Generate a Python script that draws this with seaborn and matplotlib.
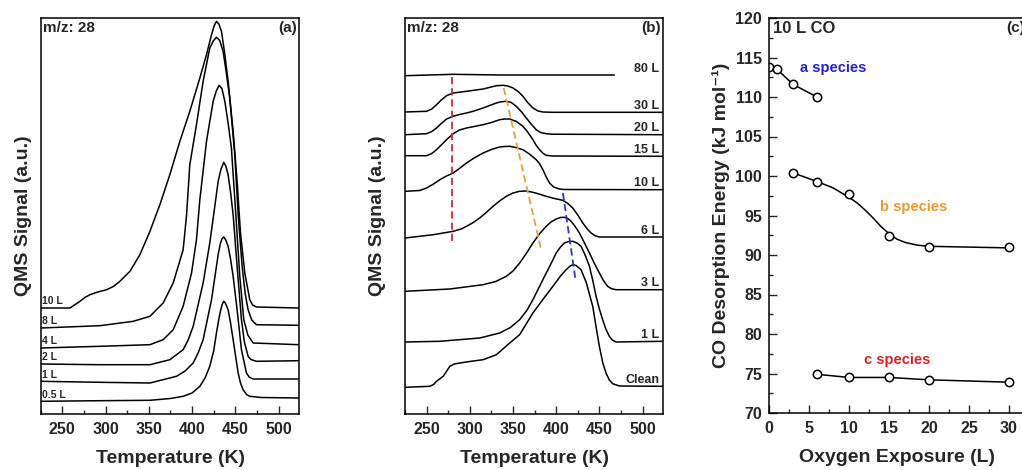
import matplotlib
matplotlib.use("Agg")
import matplotlib.pyplot as plt
import seaborn as sns
from matplotlib.ticker import MultipleLocator, NullLocator

# ---------------- Panel (a): TPD m/z 28 vs CO exposure ----------------
a_labels = ["10 L", "8 L", "4 L", "2 L", "1 L", "0.5 L"]

a_T_10 = [225, 258.9, 264, 270.4, 276, 282, 291, 301.2, 309, 316.6, 328.2, 339.7, 351.3, 362.8, 374.3,
          385.9, 397.4, 409, 416.7, 422.5, 425.5, 428.2, 431, 434, 437.5, 441.7, 447.5, 452.1, 456,
          461, 466.7, 470, 474.4, 523.7]
a_S_10 = [106, 106, 109, 112.7, 116.5, 119.3, 122, 124.3, 127.5, 132.7, 142.7, 159.3, 182.7, 209.3, 239.3,
          272.7, 302.7, 336, 359.3, 379.3, 388, 392.7, 390, 382.7, 362, 332.7, 282.7, 232.7, 181,
          141, 114.3, 109, 107, 106]

a_T_8 = [225, 293.5, 332, 351.3, 366.6, 378.2, 389.7, 393.6, 397.4, 405.1, 412.8, 420.5, 424.5, 428.2,
         432, 435.9, 439.5, 443.6, 449.4, 453.3, 457.9, 461.5, 464.8, 469, 474.4, 523.7]
a_S_8 = [86, 88.3, 92.7, 97.7, 111, 131, 164.3, 198.3, 249.3, 289.3, 332.7, 366, 373, 376.7,
         373.5, 362.7, 342, 316, 259.3, 199.3, 147.7, 120, 104.3, 94, 89.3, 88.7]

a_T_4 = [225, 293.5, 351.3, 366.6, 378.2, 389.7, 399.4, 405.1, 409, 416.7, 424.4, 428, 431.3, 434.5,
         437.9, 441.5, 445.5, 450.6, 455.2, 459.8, 464.5, 470.6, 523.7]
a_S_4 = [66, 67.7, 69.3, 74.3, 84.3, 107.7, 141, 174.3, 214.3, 272.7, 312.7, 323, 328.7, 325.5,
         312.7, 292, 266, 199.3, 137.7, 94.3, 79, 71, 69.3]

a_T_2 = [225, 293.5, 351.3, 374.3, 389.7, 395.5, 401.3, 412.8, 420.5, 426.3, 430.2, 433.5, 436.7,
         439, 441.7, 444.5, 447.5, 452.1, 457.1, 460.5, 464.8, 468, 474.4, 523.7]
a_S_2 = [50, 49.3, 49.3, 54.3, 64.3, 74, 87.7, 131, 171, 207.7, 232.7, 245, 251.7,
         248, 239.3, 222, 199.3, 147.7, 94.3, 72, 57.7, 54.5, 52.7, 53.3]

a_T_1 = [225, 293.5, 351.3, 382, 392, 401.3, 407, 412.8, 422.5, 428.2, 430.5, 432.9, 434.8, 436.7,
         439, 441.7, 444.5, 447.5, 452.1, 457.1, 462.9, 466, 470.6, 523.7]
a_S_1 = [32.7, 31.7, 31, 37.7, 43, 51, 61, 74.3, 114.3, 147.7, 161, 171, 175.5, 177,
         174, 167.7, 155, 137.7, 104.3, 64.3, 41, 37, 35, 35]

a_T_05 = [225, 293.5, 351.3, 375, 389.7, 400, 409, 415, 420.5, 425, 428.2, 431, 433.2, 435, 436.7,
          438.5, 441.7, 444.5, 447.5, 450.5, 453.3, 456, 459, 463, 466.7, 480, 523.7]
a_S_05 = [12.7, 13.3, 13.7, 15.5, 17.7, 21, 27.7, 36, 47.7, 63, 81, 95, 104.3, 110, 112.7,
          111, 104.3, 91, 74.3, 57, 41, 31, 24.3, 19.5, 17.7, 16.5, 16]

# ---------------- Panel (b): TPD after O2 pre-exposure ----------------
b_labels = ["80 L", "30 L", "20 L", "15 L", "10 L", "6 L", "3 L", "1 L", "Clean"]

b_T_80 = [225, 280.8, 334.6, 467.3]
b_S_80 = [338.3, 339.7, 339, 339]

b_T_30 = [225, 250, 256, 261.5, 267, 273.1, 280.8, 296.2, 315.4, 330.8, 338.5, 344, 350, 356,
          361.5, 367, 373.1, 379, 384.6, 395, 523.1]
b_S_30 = [302, 302.7, 305, 309.3, 314, 318.3, 321, 322.7, 325, 328.3, 328.7, 328, 326, 322.5,
          317.7, 311.5, 306, 303, 302, 301.7, 301.7]

b_T_20 = [225, 250, 256, 261.5, 267, 273.1, 280.8, 288, 296.2, 305, 315.4, 323, 330.8, 336, 342.3,
          348, 353.8, 360, 365.4, 371, 376.9, 382, 388.5, 395, 523.1]
b_S_20 = [279.3, 280.3, 282.5, 286, 290.5, 295, 297.7, 299.5, 301, 303, 306, 308.5, 311, 312.2, 312.7,
          311.5, 307.7, 302, 296, 290, 284.3, 281.5, 280.3, 279.8, 279.3]

b_T_15 = [225, 250, 256, 261.5, 267, 273.1, 280.8, 288, 296.2, 305, 315.4, 325, 334.6, 340, 346.2,
          354, 361.5, 367, 373.1, 377, 380.8, 385, 388.5, 395, 523.1]
b_S_15 = [258.3, 258.3, 260.5, 264.3, 269, 274.3, 280.3, 284, 286, 287.5, 289.3, 291.5, 294.3, 295, 295,
          292.5, 287.7, 282, 274.3, 268.5, 264.3, 260.5, 258.7, 258, 257.7]

b_T_10 = [225, 242, 250, 258, 265.4, 273, 280.8, 288, 296.2, 305, 315.4, 325, 334.6, 340, 346.2,
          353, 361.5, 369, 376.9, 381, 384.6, 388.5, 392.3, 397, 403.8, 410, 523.1]
b_S_10 = [222.7, 223.5, 226, 230, 234.3, 238, 241, 245.5, 251, 256, 261, 264.5, 267, 267.5, 267.7,
          266.5, 264.3, 260, 254.3, 250, 244.3, 237, 231, 227, 225, 224.5, 224.3]

b_T_6 = [225, 257.7, 280.8, 290, 296.2, 304, 311.5, 319, 326.9, 334.5, 342.3, 350, 357.7, 365,
         373.1, 380, 388.5, 398, 407.7, 413.5, 419.2, 425, 430.8, 436, 440.4, 445, 450, 523.1]
b_S_6 = [176, 179.3, 182.7, 185, 187.7, 191.5, 196, 201.5, 207.7, 213, 217.7, 221, 222.7, 223,
         221.7, 220, 217.7, 215.5, 213.7, 210.5, 206, 199, 191, 185, 181, 178.3, 177, 177]

b_T_3 = [225, 276.9, 315.4, 330, 342.3, 350, 357.7, 365, 373.1, 381, 388.5, 394, 400, 405, 409.6,
         413.5, 417.3, 422, 426.9, 432.5, 438.5, 444, 450, 455, 459.6, 464, 469.2, 523.1]
b_S_3 = [122.7, 125, 129.3, 132.5, 137.7, 143, 151, 160, 171, 180.5, 187.7, 192, 195, 196.5, 196.7,
         195.5, 192.7, 187.5, 181, 171.5, 161, 151, 141, 133, 127.7, 125.3, 124.3, 124.3]

b_T_1 = [225, 265.4, 311.5, 334.6, 347, 357.7, 366, 373.1, 381, 388.5, 395, 400, 405, 409.6, 414.5,
         419.2, 424, 428.8, 433.5, 438.5, 442.5, 446.2, 450, 453.8, 457.5, 461.5, 465, 469.2, 523.1]
b_S_1 = [72, 72.7, 76, 81, 86.5, 94.3, 103.5, 114.3, 128, 141, 152, 161, 167, 171, 172.5,
         172.7, 171, 167.7, 159, 147.7, 133, 117.7, 105, 94.3, 85, 77.7, 74, 72, 72.7]

b_T_clean = [225, 253.8, 258, 261.5, 265, 269.2, 273, 276.9, 282, 288.5, 300, 315.4, 330.8, 346.2,
             357.7, 373.1, 385, 396.2, 405, 411.5, 416, 419.2, 423, 428.8, 435, 442.3, 446, 450,
             454, 457.7, 461.5, 465.4, 473.1, 523.1]
b_S_clean = [26.7, 27.7, 29.5, 32.7, 35, 37.7, 42.5, 47.7, 50, 51, 52.5, 54.3, 59.3, 71,
             79.3, 101, 115, 127.7, 138, 144.3, 147.8, 149.3, 148.5, 144.3, 131, 107.7, 88, 67.7,
             51, 41, 34, 30.3, 28, 27.7]

# guide lines (peak positions) in panel (b)
guide_red_T = [279.6, 279.6]
guide_red_S = [337.3, 172.3]
guide_orange_T = [339.3, 382.8]
guide_orange_S = [326, 163.6]
guide_blue_T = [407.8, 422.1]
guide_blue_S = [221, 136]

# ---------------- Panel (c): desorption energies ----------------
a_sp_x = [0, 1, 3, 6]
a_sp_E = [113.8, 113.5, 111.6, 110.0]
b_sp_x = [3, 6, 10, 15, 20, 30]
b_sp_E = [100.4, 99.3, 97.7, 92.4, 91.0, 91.0]
b_fit_x = [3, 6, 8, 10, 11, 12, 13, 14, 15, 16, 17, 18.5, 20, 25, 30]
b_fit_E = [100.4, 99.3, 98.5, 97.3, 96.6, 95.7, 94.7, 93.6, 92.7, 92.0, 91.6, 91.25, 91.1, 91.0, 90.9]
c_sp_x = [6, 10, 15, 20, 30]
c_sp_E = [74.9, 74.5, 74.5, 74.2, 73.9]

# ---------------- styling ----------------
sns.set_style("ticks")
plt.rcParams["font.family"] = ["Liberation Sans", "DejaVu Sans"]
plt.rcParams["font.weight"] = "bold"
plt.rcParams["axes.labelweight"] = "bold"
plt.rcParams["axes.linewidth"] = 1.1
plt.rcParams["axes.edgecolor"] = "black"

fig = plt.figure(figsize=(10.22, 4.70), dpi=100)
W, H = 1022.0, 470.0
axA = fig.add_axes([40.7 / W, (H - 414) / H, 258.6 / W, 396 / H])
axB = fig.add_axes([405.0 / W, (H - 414) / H, 258.3 / W, 396 / H])
axC = fig.add_axes([769.0 / W, (H - 413) / H, 256.0 / W, 395 / H])

TICK_FS = 11.5
LAB_FS = 14

def tpd_axes(ax, tag):
    ax.set_xlim(225, 524)
    ax.set_ylim(0, 396)
    ax.xaxis.set_major_locator(MultipleLocator(50))
    ax.xaxis.set_minor_locator(MultipleLocator(25))
    ax.yaxis.set_major_locator(NullLocator())
    ax.tick_params(axis="x", which="major", direction="in", length=6, width=1.0,
                   labelsize=TICK_FS, pad=6, top=False)
    ax.tick_params(axis="x", which="minor", direction="in", length=3, width=1.0, top=False)
    ax.tick_params(axis="y", left=False, right=False, labelleft=False)
    for lab in ax.get_xticklabels():
        lab.set_fontweight("bold")
    ax.set_xlabel("Temperature (K)", fontsize=LAB_FS, fontweight="bold", labelpad=9)
    ax.text(0.008, 0.993, "m/z: 28", transform=ax.transAxes, ha="left", va="top",
            fontsize=11, fontweight="bold")
    ax.text(0.99, 0.993, tag, transform=ax.transAxes, ha="right", va="top",
            fontsize=11, fontweight="bold")
    for s in ax.spines.values():
        s.set_visible(True)
        s.set_color("black")

def curve(ax, T, S, color="black", lw=1.1, **kw):
    sns.lineplot(x=T, y=S, ax=ax, color=color, lw=lw, sort=False, estimator=None,
                 legend=False, **kw)

# panel (a)
a_T = [a_T_10, a_T_8, a_T_4, a_T_2, a_T_1, a_T_05]
a_S = [a_S_10, a_S_8, a_S_4, a_S_2, a_S_1, a_S_05]
for T, S, lab in zip(a_T, a_S, a_labels):
    curve(axA, T, S)
    axA.text(226.5, S[0] + 3.5, lab, ha="left", va="baseline", fontsize=7.5, fontweight="bold")
tpd_axes(axA, "(a)")
axA.set_ylabel("QMS Signal (a.u.)", fontsize=LAB_FS, fontweight="bold", labelpad=6)

# panel (b)
b_T = [b_T_80, b_T_30, b_T_20, b_T_15, b_T_10, b_T_6, b_T_3, b_T_1, b_T_clean]
b_S = [b_S_80, b_S_30, b_S_20, b_S_15, b_S_10, b_S_6, b_S_3, b_S_1, b_S_clean]
for T, S, lab in zip(b_T, b_S, b_labels):
    curve(axB, T, S)
    axB.text(519.5, S[-1] + 3.5, lab, ha="right", va="baseline", fontsize=9, fontweight="bold")
dash = (0, (4, 2.2))
curve(axB, guide_red_T, guide_red_S, color="#c0302e", lw=1.3, linestyle=dash)
curve(axB, guide_orange_T, guide_orange_S, color="#e2a040", lw=1.3, linestyle=dash)
curve(axB, guide_blue_T, guide_blue_S, color="#3535c0", lw=1.3, linestyle=dash)
tpd_axes(axB, "(b)")
axB.set_ylabel("QMS Signal (a.u.)", fontsize=LAB_FS, fontweight="bold", labelpad=14)

# panel (c)
mk = dict(marker="o", ms=6, markerfacecolor="white", markeredgecolor="black",
          markeredgewidth=1.1)
sns.lineplot(x=a_sp_x, y=a_sp_E, ax=axC, color="black", lw=1.1, sort=False, estimator=None, **mk)
sns.lineplot(x=b_fit_x, y=b_fit_E, ax=axC, color="black", lw=1.1, sort=False, estimator=None)
sns.lineplot(x=b_sp_x, y=b_sp_E, ax=axC, color="black", lw=0, sort=False, estimator=None, **mk)
sns.lineplot(x=c_sp_x, y=c_sp_E, ax=axC, color="black", lw=1.1, sort=False, estimator=None, **mk)
axC.set_xlim(0, 32)
axC.set_ylim(70, 120)
axC.xaxis.set_major_locator(MultipleLocator(5))
axC.xaxis.set_minor_locator(MultipleLocator(2.5))
axC.yaxis.set_major_locator(MultipleLocator(5))
axC.yaxis.set_minor_locator(MultipleLocator(2.5))
axC.tick_params(which="major", direction="in", length=6, width=1.0, labelsize=TICK_FS,
                pad=5, top=False, right=False)
axC.tick_params(which="minor", direction="in", length=3, width=1.0, top=False, right=False)
axC.tick_params(axis="x", which="major", pad=6)
for lab in axC.get_xticklabels() + axC.get_yticklabels():
    lab.set_fontweight("bold")
axC.set_xlabel("Oxygen Exposure (L)", fontsize=LAB_FS, fontweight="bold", labelpad=9)
axC.set_ylabel("CO Desorption Energy (kJ mol\u207b\u00b9)", fontsize=LAB_FS,
               fontweight="bold", labelpad=4)
axC.text(0.016, 0.993, "10 L CO", transform=axC.transAxes, ha="left", va="top",
         fontsize=12, fontweight="bold")
axC.text(0.926, 0.993, "(c)", transform=axC.transAxes, ha="left", va="top",
         fontsize=11, fontweight="bold")
axC.text(8.0, 113.7, "a species", ha="center", va="center", fontsize=10.5,
         fontweight="bold", color="#2222c8")
axC.text(18.1, 96.1, "b species", ha="center", va="center", fontsize=10.5,
         fontweight="bold", color="#ec9a30")
axC.text(16.0, 76.7, "c species", ha="center", va="center", fontsize=10.5,
         fontweight="bold", color="#d42424")
for s in axC.spines.values():
    s.set_visible(True)
    s.set_color("black")

fig.savefig("out.png", dpi=100)
